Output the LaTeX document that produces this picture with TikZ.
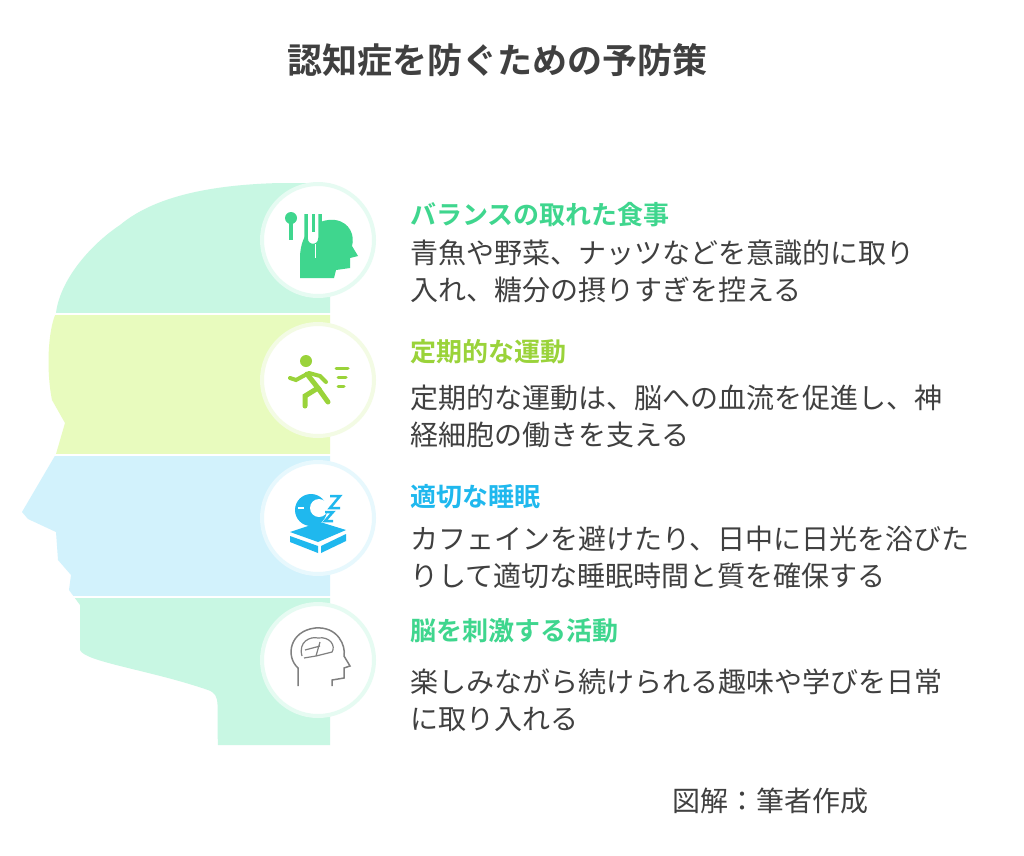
\documentclass[tikz,border=0pt]{standalone}
\usepackage{fontspec}
\newfontfamily\jp{Noto Sans CJK JP}
\newfontfamily\jpb{Noto Sans CJK JP Bold}
\definecolor{mint}{HTML}{C8F7E3}
\definecolor{lime}{HTML}{E8FBBE}
\definecolor{sky}{HTML}{D2F2FC}
\definecolor{cg}{HTML}{3FD68E}
\definecolor{cy}{HTML}{9AD33A}
\definecolor{cb}{HTML}{1FB8EE}
\definecolor{tx}{HTML}{404040}
\tikzset{
 head/.style={font=\jpb\fontsize{26}{30}\selectfont,anchor=west,inner sep=0},
 body/.style={font=\jp\fontsize{28}{37}\selectfont,anchor=west,inner sep=0,align=left,text=tx},
 ring/.style={circle,minimum size=112pt,fill=white,line width=4pt}
}
\begin{document}
\begin{tikzpicture}[x=1pt,y=-1pt]
\useasboundingbox (0,0) rectangle (1024,855);
\fill[white] (0,0) rectangle (1024,855);
\node[font=\jpb\fontsize{35}{40}\selectfont,text=tx] (title) at (497,60) {認知症を防ぐための予防策};
\begin{scope}
\clip (330,183) -- (280,183) .. controls (200,185) and (150,200) .. (120,225)
 .. controls (90,245) and (60,280) .. (56,313) .. controls (48,330) and (46,370) .. (52,400)
 -- (65,423) -- (56,454) -- (22,512) -- (28,519) -- (56,532) -- (58,560) -- (71,575) -- (69,590)
 -- (80,605) -- (80,650) .. controls (85,662) and (150,670) .. (208,690)
 .. controls (222,695) and (216,705) .. (218,745) -- (330,745) -- cycle;
\fill[mint] (0,180) rectangle (400,313);
\fill[lime] (0,315) rectangle (400,454);
\fill[sky] (0,456) rectangle (400,596);
\fill[mint] (0,598) rectangle (400,750);
\end{scope}
\node[ring,draw=mint!80!cg!30] (c1) at (318,240) {};
\node[ring,draw=lime!80!cy!30] (c2) at (318,380) {};
\node[ring,draw=sky!80!cb!30] (c3) at (318,518) {};
\node[ring,draw=mint!80!cg!30] (c4) at (318,660) {};
% icon 1
\fill[cg] (300,258) .. controls (300,231) and (318,218) .. (335,220) .. controls (350,222) and (355,236) .. (352,246) -- (358,256) -- (350,258) -- (350,268) -- (336,270) -- (334,278) -- (300,278) -- cycle;
\fill[cg] (291,218) circle (6);
\draw[cg,line width=4pt] (291,222) -- (291,240);
\draw[cg,line width=3.5pt,fill=white] (306,214) -- (306,238) .. controls (306,248) and (320,248) .. (320,238) -- (320,214);
\draw[cg,line width=3pt] (313,214) -- (313,232);
\draw[white,line width=5pt] (313,244) -- (313,258);
\draw[cg,line width=3.5pt] (313,244) -- (313,258);
% icon 2
\fill[cy] (306,361) circle (6);
\draw[cy,line width=5pt,line cap=round] (307,374) -- (318,388) -- (305,396) -- (305,406);
\draw[cy,line width=5pt,line cap=round] (318,388) -- (328,402);
\draw[cy,line width=4pt,line cap=round] (307,374) -- (296,380) -- (290,378);
\draw[cy,line width=4pt,line cap=round] (309,373) -- (320,376) -- (326,382);
\draw[cy,line width=3pt,line cap=round] (336,368) -- (348,368) (338,377) -- (346,377) (338,386) -- (344,386);
% icon 3
\fill[cb] (311,510) circle (16);
\fill[white] (319,508) circle (9);
\draw[white,line width=2pt] (298,508) -- (304,508);
\fill[cb] (290,532) -- (320,522) -- (346,530) -- (318,542) -- cycle;
\fill[cb] (290,536) -- (318,546) -- (318,553) -- (290,542) -- cycle;
\fill[cb] (321,546) -- (346,534) -- (346,541) -- (321,553) -- cycle;
\draw[cb,line width=2.5pt] (330,496) -- (340,496) -- (330,508) -- (340,508);
\draw[cb,line width=2.5pt] (325,512) -- (333,512) -- (325,521) -- (333,521);
% icon 4
\draw[gray,line width=1.5pt] (298,686) -- (298,668) .. controls (285,656) and (290,631) .. (315,628) .. controls (338,626) and (346,646) .. (344,656) -- (350,666) -- (344,668) -- (344,678) -- (332,680) -- (332,686);
\draw[gray,line width=1.2pt] (302,656) .. controls (298,642) and (310,636) .. (318,638) .. controls (330,636) and (336,646) .. (332,652) -- (316,656) -- (304,658) (316,656) -- (320,642) (305,650) -- (320,646);
% text
\node[head,text=cg] (h1) at (410,215) {バランスの取れた食事};
\node[body] (b1) at (410,271) {青魚や野菜、ナッツなどを意識的に取り\\入れ、糖分の摂りすぎを控える};
\node[head,text=cy] (h2) at (410,352) {定期的な運動};
\node[body] (b2) at (410,416) {定期的な運動は、脳への血流を促進し、神\\経細胞の働きを支える};
\node[head,text=cb] (h3) at (410,497) {適切な睡眠};
\node[body] (b3) at (410,557) {カフェインを避けたり、日中に日光を浴びた\\りして適切な睡眠時間と質を確保する};
\node[head,text=cg] (h4) at (410,631) {脳を刺激する活動};
\node[body] (b4) at (410,700) {楽しみながら続けられる趣味や学びを日常\\に取り入れる};
\node[font=\jp\fontsize{28}{32}\selectfont,text=tx] (cr) at (770,801) {図解：筆者作成};
\end{tikzpicture}
\end{document}
